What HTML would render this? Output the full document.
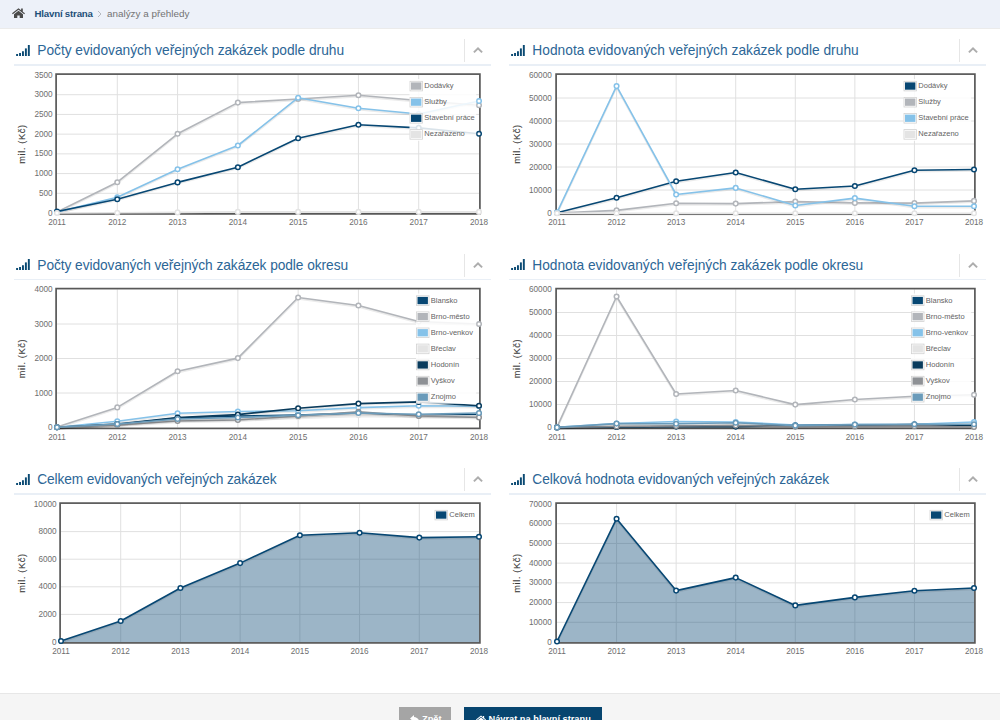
<!DOCTYPE html>
<html lang="cs"><head><meta charset="utf-8"><title>analýzy a přehledy</title>
<style>
html,body{margin:0;padding:0}
body{width:1000px;height:720px;overflow:hidden;position:relative;background:#fff;font-family:"Liberation Sans",sans-serif;color:#545454}
.bc{position:absolute;left:0;top:0;width:1000px;height:27.8px;background:#edf1f9;border-bottom:1px solid #ebebeb}
.bc .home{position:absolute;left:12px;top:7.7px}
.bc .a{position:absolute;left:34.5px;top:7.1px;font-size:9.7px;letter-spacing:-0.2px;line-height:13px;font-weight:bold;color:#1d4f78;white-space:nowrap}
.bc .sep{position:absolute;left:97px;top:9.5px}
.bc .b{position:absolute;left:107px;top:7px;font-size:9.9px;line-height:13px;color:#737373;white-space:nowrap}
.panel{position:absolute;width:477px;height:30px}
.panel .sig{position:absolute;left:2px;top:8.8px;fill:#0b4a73}
.panel .ttl{position:absolute;left:23.3px;top:6px;font-size:13.75px;line-height:18px;color:#2c6696;white-space:nowrap}
.panel .div{position:absolute;left:450px;top:3px;width:1px;height:23px;background:#e6e6e6}
.panel .chev{position:absolute;left:458px;top:10.3px}
.panel .ul{position:absolute;left:0;top:28.1px;width:477px;height:1.7px;background:#e9eff6}
svg.main{position:absolute;left:0;top:0}
.tk{font-size:8.2px;fill:#6e6e6e;font-family:"Liberation Sans",sans-serif}
.lg{font-size:7.5px;fill:#646464;font-family:"Liberation Sans",sans-serif}
.yl{font-size:9.2px;fill:#3c3c3c;stroke:#3c3c3c;stroke-width:0.14px;font-family:"Liberation Sans",sans-serif;letter-spacing:0.65px}
.foot{position:absolute;left:0;top:692.6px;width:1000px;height:28px;background:#f5f5f5;box-shadow:inset 0 1px 0 #e7e7e7}
.btn{position:absolute;top:14.9px;height:30px;color:#fff;font-weight:bold;font-size:9.25px;line-height:13px;white-space:nowrap}
.btn span{position:absolute;top:5.7px}
.b1{left:399.3px;width:51.5px;background:#a5a5a5}
.b2{left:463.5px;width:138px;background:#07456f}
</style></head><body>
<div class="bc">
<svg class="home" width="13" height="10.5" viewBox="0 0 13 11" preserveAspectRatio="none"><path d="M6.5 0.3 L0 5.6 L0.8 6.5 L6.5 1.9 L12.2 6.5 L13 5.6 L10.8 3.8 V0.4 H9.1 V2.4 Z" fill="#4a4a4a"/><path d="M6.5 2.9 L2 6.6 V10.8 H5.3 V7.8 H7.7 V10.8 H11 V6.6 Z" fill="#4a4a4a"/></svg>
<span class="a">Hlavní strana</span>
<svg class="sep" width="5" height="8" viewBox="0 0 5 8"><polyline points="1,1 4,4 1,7" fill="none" stroke="#b5b9c0" stroke-width="1"/></svg>
<span class="b">analýzy a přehledy</span>
</div>
<div class="panel" style="left:14px;top:36.0px">
<svg class="sig" width="14" height="11" viewBox="0 0 15 12"><rect x="0" y="9.8" width="2.1" height="2.2"/><rect x="3.2" y="8.7" width="2.1" height="3.3"/><rect x="6.4" y="6.8" width="2.1" height="5.2"/><rect x="9.6" y="3.7" width="2.1" height="8.3"/><rect x="12.8" y="0" width="2.1" height="12"/></svg>
<span class="ttl" style="letter-spacing:-0.028px">Počty evidovaných veřejných zakázek podle druhu</span>
<span class="div"></span>
<svg class="chev" width="12" height="8" viewBox="0 0 12 8"><polyline points="1.9,6.4 6,2.3 10.1,6.4" fill="none" stroke="#adadad" stroke-width="2"/></svg>
<span class="ul"></span>
</div>
<div class="panel" style="left:509px;top:36.0px">
<svg class="sig" width="14" height="11" viewBox="0 0 15 12"><rect x="0" y="9.8" width="2.1" height="2.2"/><rect x="3.2" y="8.7" width="2.1" height="3.3"/><rect x="6.4" y="6.8" width="2.1" height="5.2"/><rect x="9.6" y="3.7" width="2.1" height="8.3"/><rect x="12.8" y="0" width="2.1" height="12"/></svg>
<span class="ttl" style="letter-spacing:0.016px">Hodnota evidovaných veřejných zakázek podle druhu</span>
<span class="div"></span>
<svg class="chev" width="12" height="8" viewBox="0 0 12 8"><polyline points="1.9,6.4 6,2.3 10.1,6.4" fill="none" stroke="#adadad" stroke-width="2"/></svg>
<span class="ul"></span>
</div>
<div class="panel" style="left:14px;top:250.5px">
<svg class="sig" width="14" height="11" viewBox="0 0 15 12"><rect x="0" y="9.8" width="2.1" height="2.2"/><rect x="3.2" y="8.7" width="2.1" height="3.3"/><rect x="6.4" y="6.8" width="2.1" height="5.2"/><rect x="9.6" y="3.7" width="2.1" height="8.3"/><rect x="12.8" y="0" width="2.1" height="12"/></svg>
<span class="ttl" style="letter-spacing:-0.071px">Počty evidovaných veřejných zakázek podle okresu</span>
<span class="div"></span>
<svg class="chev" width="12" height="8" viewBox="0 0 12 8"><polyline points="1.9,6.4 6,2.3 10.1,6.4" fill="none" stroke="#adadad" stroke-width="2"/></svg>
<span class="ul"></span>
</div>
<div class="panel" style="left:509px;top:250.5px">
<svg class="sig" width="14" height="11" viewBox="0 0 15 12"><rect x="0" y="9.8" width="2.1" height="2.2"/><rect x="3.2" y="8.7" width="2.1" height="3.3"/><rect x="6.4" y="6.8" width="2.1" height="5.2"/><rect x="9.6" y="3.7" width="2.1" height="8.3"/><rect x="12.8" y="0" width="2.1" height="12"/></svg>
<span class="ttl" style="letter-spacing:-0.018px">Hodnota evidovaných veřejných zakázek podle okresu</span>
<span class="div"></span>
<svg class="chev" width="12" height="8" viewBox="0 0 12 8"><polyline points="1.9,6.4 6,2.3 10.1,6.4" fill="none" stroke="#adadad" stroke-width="2"/></svg>
<span class="ul"></span>
</div>
<div class="panel" style="left:14px;top:465.0px">
<svg class="sig" width="14" height="11" viewBox="0 0 15 12"><rect x="0" y="9.8" width="2.1" height="2.2"/><rect x="3.2" y="8.7" width="2.1" height="3.3"/><rect x="6.4" y="6.8" width="2.1" height="5.2"/><rect x="9.6" y="3.7" width="2.1" height="8.3"/><rect x="12.8" y="0" width="2.1" height="12"/></svg>
<span class="ttl" style="letter-spacing:-0.13px">Celkem evidovaných veřejných zakázek</span>
<span class="div"></span>
<svg class="chev" width="12" height="8" viewBox="0 0 12 8"><polyline points="1.9,6.4 6,2.3 10.1,6.4" fill="none" stroke="#adadad" stroke-width="2"/></svg>
<span class="ul"></span>
</div>
<div class="panel" style="left:509px;top:465.0px">
<svg class="sig" width="14" height="11" viewBox="0 0 15 12"><rect x="0" y="9.8" width="2.1" height="2.2"/><rect x="3.2" y="8.7" width="2.1" height="3.3"/><rect x="6.4" y="6.8" width="2.1" height="5.2"/><rect x="9.6" y="3.7" width="2.1" height="8.3"/><rect x="12.8" y="0" width="2.1" height="12"/></svg>
<span class="ttl" style="letter-spacing:-0.08px">Celková hodnota evidovaných veřejných zakázek</span>
<span class="div"></span>
<svg class="chev" width="12" height="8" viewBox="0 0 12 8"><polyline points="1.9,6.4 6,2.3 10.1,6.4" fill="none" stroke="#adadad" stroke-width="2"/></svg>
<span class="ul"></span>
</div>
<svg class="main" width="1000" height="720" viewBox="0 0 1000 720">
<g id="chart1">
<line x1="57" x2="479" y1="193.29" y2="193.29" stroke="#e0e0e0" stroke-width="1"/>
<line x1="57" x2="479" y1="173.57" y2="173.57" stroke="#e0e0e0" stroke-width="1"/>
<line x1="57" x2="479" y1="153.86" y2="153.86" stroke="#e0e0e0" stroke-width="1"/>
<line x1="57" x2="479" y1="134.14" y2="134.14" stroke="#e0e0e0" stroke-width="1"/>
<line x1="57" x2="479" y1="114.43" y2="114.43" stroke="#e0e0e0" stroke-width="1"/>
<line x1="57" x2="479" y1="94.71" y2="94.71" stroke="#e0e0e0" stroke-width="1"/>
<line x1="117.29" x2="117.29" y1="75" y2="213" stroke="#e0e0e0" stroke-width="1"/>
<line x1="177.57" x2="177.57" y1="75" y2="213" stroke="#e0e0e0" stroke-width="1"/>
<line x1="237.86" x2="237.86" y1="75" y2="213" stroke="#e0e0e0" stroke-width="1"/>
<line x1="298.14" x2="298.14" y1="75" y2="213" stroke="#e0e0e0" stroke-width="1"/>
<line x1="358.43" x2="358.43" y1="75" y2="213" stroke="#e0e0e0" stroke-width="1"/>
<line x1="418.71" x2="418.71" y1="75" y2="213" stroke="#e0e0e0" stroke-width="1"/>
<rect x="56.1" y="74.1" width="423.8" height="139.8" fill="none" stroke="#585858" stroke-width="1.7"/>
<text x="52.6" y="215.60" text-anchor="end" class="tk">0</text>
<text x="52.6" y="195.89" text-anchor="end" class="tk">500</text>
<text x="52.6" y="176.17" text-anchor="end" class="tk">1000</text>
<text x="52.6" y="156.46" text-anchor="end" class="tk">1500</text>
<text x="52.6" y="136.74" text-anchor="end" class="tk">2000</text>
<text x="52.6" y="117.03" text-anchor="end" class="tk">2500</text>
<text x="52.6" y="97.31" text-anchor="end" class="tk">3000</text>
<text x="52.6" y="77.60" text-anchor="end" class="tk">3500</text>
<text x="57.00" y="225.00" text-anchor="middle" class="tk">2011</text>
<text x="117.29" y="225.00" text-anchor="middle" class="tk">2012</text>
<text x="177.57" y="225.00" text-anchor="middle" class="tk">2013</text>
<text x="237.86" y="225.00" text-anchor="middle" class="tk">2014</text>
<text x="298.14" y="225.00" text-anchor="middle" class="tk">2015</text>
<text x="358.43" y="225.00" text-anchor="middle" class="tk">2016</text>
<text x="418.71" y="225.00" text-anchor="middle" class="tk">2017</text>
<text x="479.00" y="225.00" text-anchor="middle" class="tk">2018</text>
<text transform="translate(24.8,144.0) rotate(-90)" text-anchor="middle" class="yl">mil. (Kč)</text>
<polyline points="57.00,212.00 117.29,182.20 177.57,133.80 237.86,102.60 298.14,99.00 358.43,95.30 418.71,100.50 479.00,105.20" fill="none" stroke="#000" stroke-opacity="0.08" stroke-width="2" transform="translate(0,1.2)"/>
<polyline points="57.00,212.00 117.29,182.20 177.57,133.80 237.86,102.60 298.14,99.00 358.43,95.30 418.71,100.50 479.00,105.20" fill="none" stroke="#b2b5ba" stroke-width="1.6" stroke-linejoin="round"/>
<circle cx="57.00" cy="212.00" r="2.3" fill="#fff" stroke="#b2b5ba" stroke-width="1.5"/>
<circle cx="117.29" cy="182.20" r="2.3" fill="#fff" stroke="#b2b5ba" stroke-width="1.5"/>
<circle cx="177.57" cy="133.80" r="2.3" fill="#fff" stroke="#b2b5ba" stroke-width="1.5"/>
<circle cx="237.86" cy="102.60" r="2.3" fill="#fff" stroke="#b2b5ba" stroke-width="1.5"/>
<circle cx="298.14" cy="99.00" r="2.3" fill="#fff" stroke="#b2b5ba" stroke-width="1.5"/>
<circle cx="358.43" cy="95.30" r="2.3" fill="#fff" stroke="#b2b5ba" stroke-width="1.5"/>
<circle cx="418.71" cy="100.50" r="2.3" fill="#fff" stroke="#b2b5ba" stroke-width="1.5"/>
<circle cx="479.00" cy="105.20" r="2.3" fill="#fff" stroke="#b2b5ba" stroke-width="1.5"/>
<polyline points="57.00,212.00 117.29,197.20 177.57,169.20 237.86,145.50 298.14,97.70 358.43,108.30 418.71,114.00 479.00,101.00" fill="none" stroke="#000" stroke-opacity="0.08" stroke-width="2" transform="translate(0,1.2)"/>
<polyline points="57.00,212.00 117.29,197.20 177.57,169.20 237.86,145.50 298.14,97.70 358.43,108.30 418.71,114.00 479.00,101.00" fill="none" stroke="#85c2e9" stroke-width="1.6" stroke-linejoin="round"/>
<circle cx="57.00" cy="212.00" r="2.3" fill="#fff" stroke="#85c2e9" stroke-width="1.5"/>
<circle cx="117.29" cy="197.20" r="2.3" fill="#fff" stroke="#85c2e9" stroke-width="1.5"/>
<circle cx="177.57" cy="169.20" r="2.3" fill="#fff" stroke="#85c2e9" stroke-width="1.5"/>
<circle cx="237.86" cy="145.50" r="2.3" fill="#fff" stroke="#85c2e9" stroke-width="1.5"/>
<circle cx="298.14" cy="97.70" r="2.3" fill="#fff" stroke="#85c2e9" stroke-width="1.5"/>
<circle cx="358.43" cy="108.30" r="2.3" fill="#fff" stroke="#85c2e9" stroke-width="1.5"/>
<circle cx="418.71" cy="114.00" r="2.3" fill="#fff" stroke="#85c2e9" stroke-width="1.5"/>
<circle cx="479.00" cy="101.00" r="2.3" fill="#fff" stroke="#85c2e9" stroke-width="1.5"/>
<polyline points="57.00,211.50 117.29,199.20 177.57,182.40 237.86,167.20 298.14,138.20 358.43,124.80 418.71,127.90 479.00,133.80" fill="none" stroke="#000" stroke-opacity="0.08" stroke-width="2" transform="translate(0,1.2)"/>
<polyline points="57.00,211.50 117.29,199.20 177.57,182.40 237.86,167.20 298.14,138.20 358.43,124.80 418.71,127.90 479.00,133.80" fill="none" stroke="#074773" stroke-width="1.6" stroke-linejoin="round"/>
<circle cx="57.00" cy="211.50" r="2.3" fill="#fff" stroke="#074773" stroke-width="1.5"/>
<circle cx="117.29" cy="199.20" r="2.3" fill="#fff" stroke="#074773" stroke-width="1.5"/>
<circle cx="177.57" cy="182.40" r="2.3" fill="#fff" stroke="#074773" stroke-width="1.5"/>
<circle cx="237.86" cy="167.20" r="2.3" fill="#fff" stroke="#074773" stroke-width="1.5"/>
<circle cx="298.14" cy="138.20" r="2.3" fill="#fff" stroke="#074773" stroke-width="1.5"/>
<circle cx="358.43" cy="124.80" r="2.3" fill="#fff" stroke="#074773" stroke-width="1.5"/>
<circle cx="418.71" cy="127.90" r="2.3" fill="#fff" stroke="#074773" stroke-width="1.5"/>
<circle cx="479.00" cy="133.80" r="2.3" fill="#fff" stroke="#074773" stroke-width="1.5"/>
<polyline points="57.00,213.00 117.29,212.70 177.57,212.40 237.86,211.90 298.14,211.90 358.43,211.90 418.71,211.90 479.00,211.90" fill="none" stroke="#000" stroke-opacity="0.08" stroke-width="2" transform="translate(0,1.2)"/>
<polyline points="57.00,213.00 117.29,212.70 177.57,212.40 237.86,211.90 298.14,211.90 358.43,211.90 418.71,211.90 479.00,211.90" fill="none" stroke="#e4e4e4" stroke-width="1.6" stroke-linejoin="round"/>
<circle cx="57.00" cy="213.00" r="2.3" fill="#fff" stroke="#e4e4e4" stroke-width="1.5"/>
<circle cx="117.29" cy="212.70" r="2.3" fill="#fff" stroke="#e4e4e4" stroke-width="1.5"/>
<circle cx="177.57" cy="212.40" r="2.3" fill="#fff" stroke="#e4e4e4" stroke-width="1.5"/>
<circle cx="237.86" cy="211.90" r="2.3" fill="#fff" stroke="#e4e4e4" stroke-width="1.5"/>
<circle cx="298.14" cy="211.90" r="2.3" fill="#fff" stroke="#e4e4e4" stroke-width="1.5"/>
<circle cx="358.43" cy="211.90" r="2.3" fill="#fff" stroke="#e4e4e4" stroke-width="1.5"/>
<circle cx="418.71" cy="211.90" r="2.3" fill="#fff" stroke="#e4e4e4" stroke-width="1.5"/>
<circle cx="479.00" cy="211.90" r="2.3" fill="#fff" stroke="#e4e4e4" stroke-width="1.5"/>
<rect x="409.5" y="79" width="66.69999999999999" height="61.9" fill="#fff" fill-opacity="0.85"/>
<rect x="410.0" y="81.30" width="12.5" height="9.6" fill="#fff" stroke="#d2d2d2" stroke-width="0.8"/>
<rect x="411.0" y="82.40" width="10.4" height="7.3" fill="#b2b5ba"/>
<text x="424.3" y="88.00" class="lg">Dodávky</text>
<rect x="410.0" y="97.40" width="12.5" height="9.6" fill="#fff" stroke="#d2d2d2" stroke-width="0.8"/>
<rect x="411.0" y="98.50" width="10.4" height="7.3" fill="#85c2e9"/>
<text x="424.3" y="104.10" class="lg">Služby</text>
<rect x="410.0" y="113.50" width="12.5" height="9.6" fill="#fff" stroke="#d2d2d2" stroke-width="0.8"/>
<rect x="411.0" y="114.60" width="10.4" height="7.3" fill="#074773"/>
<text x="424.3" y="120.20" class="lg">Stavební práce</text>
<rect x="410.0" y="129.60" width="12.5" height="9.6" fill="#fff" stroke="#d2d2d2" stroke-width="0.8"/>
<rect x="411.0" y="130.70" width="10.4" height="7.3" fill="#e4e4e4"/>
<text x="424.3" y="136.30" class="lg">Nezařazeno</text>
</g>
<g id="chart2">
<line x1="557" x2="974" y1="190.00" y2="190.00" stroke="#e0e0e0" stroke-width="1"/>
<line x1="557" x2="974" y1="167.00" y2="167.00" stroke="#e0e0e0" stroke-width="1"/>
<line x1="557" x2="974" y1="144.00" y2="144.00" stroke="#e0e0e0" stroke-width="1"/>
<line x1="557" x2="974" y1="121.00" y2="121.00" stroke="#e0e0e0" stroke-width="1"/>
<line x1="557" x2="974" y1="98.00" y2="98.00" stroke="#e0e0e0" stroke-width="1"/>
<line x1="616.57" x2="616.57" y1="75" y2="213" stroke="#e0e0e0" stroke-width="1"/>
<line x1="676.14" x2="676.14" y1="75" y2="213" stroke="#e0e0e0" stroke-width="1"/>
<line x1="735.71" x2="735.71" y1="75" y2="213" stroke="#e0e0e0" stroke-width="1"/>
<line x1="795.29" x2="795.29" y1="75" y2="213" stroke="#e0e0e0" stroke-width="1"/>
<line x1="854.86" x2="854.86" y1="75" y2="213" stroke="#e0e0e0" stroke-width="1"/>
<line x1="914.43" x2="914.43" y1="75" y2="213" stroke="#e0e0e0" stroke-width="1"/>
<rect x="556.1" y="74.1" width="418.8" height="139.8" fill="none" stroke="#585858" stroke-width="1.7"/>
<text x="551.8" y="215.60" text-anchor="end" class="tk">0</text>
<text x="551.8" y="192.60" text-anchor="end" class="tk">10000</text>
<text x="551.8" y="169.60" text-anchor="end" class="tk">20000</text>
<text x="551.8" y="146.60" text-anchor="end" class="tk">30000</text>
<text x="551.8" y="123.60" text-anchor="end" class="tk">40000</text>
<text x="551.8" y="100.60" text-anchor="end" class="tk">50000</text>
<text x="551.8" y="77.60" text-anchor="end" class="tk">60000</text>
<text x="557.00" y="225.00" text-anchor="middle" class="tk">2011</text>
<text x="616.57" y="225.00" text-anchor="middle" class="tk">2012</text>
<text x="676.14" y="225.00" text-anchor="middle" class="tk">2013</text>
<text x="735.71" y="225.00" text-anchor="middle" class="tk">2014</text>
<text x="795.29" y="225.00" text-anchor="middle" class="tk">2015</text>
<text x="854.86" y="225.00" text-anchor="middle" class="tk">2016</text>
<text x="914.43" y="225.00" text-anchor="middle" class="tk">2017</text>
<text x="974.00" y="225.00" text-anchor="middle" class="tk">2018</text>
<text transform="translate(519.8,144.0) rotate(-90)" text-anchor="middle" class="yl">mil. (Kč)</text>
<polyline points="557.00,212.80 616.57,197.80 676.14,181.30 735.71,172.50 795.29,189.30 854.86,186.00 914.43,170.30 974.00,169.50" fill="none" stroke="#000" stroke-opacity="0.08" stroke-width="2" transform="translate(0,1.2)"/>
<polyline points="557.00,212.80 616.57,197.80 676.14,181.30 735.71,172.50 795.29,189.30 854.86,186.00 914.43,170.30 974.00,169.50" fill="none" stroke="#074773" stroke-width="1.6" stroke-linejoin="round"/>
<circle cx="557.00" cy="212.80" r="2.3" fill="#fff" stroke="#074773" stroke-width="1.5"/>
<circle cx="616.57" cy="197.80" r="2.3" fill="#fff" stroke="#074773" stroke-width="1.5"/>
<circle cx="676.14" cy="181.30" r="2.3" fill="#fff" stroke="#074773" stroke-width="1.5"/>
<circle cx="735.71" cy="172.50" r="2.3" fill="#fff" stroke="#074773" stroke-width="1.5"/>
<circle cx="795.29" cy="189.30" r="2.3" fill="#fff" stroke="#074773" stroke-width="1.5"/>
<circle cx="854.86" cy="186.00" r="2.3" fill="#fff" stroke="#074773" stroke-width="1.5"/>
<circle cx="914.43" cy="170.30" r="2.3" fill="#fff" stroke="#074773" stroke-width="1.5"/>
<circle cx="974.00" cy="169.50" r="2.3" fill="#fff" stroke="#074773" stroke-width="1.5"/>
<polyline points="557.00,213.00 616.57,210.40 676.14,203.30 735.71,203.60 795.29,201.60 854.86,202.90 914.43,203.10 974.00,200.90" fill="none" stroke="#000" stroke-opacity="0.08" stroke-width="2" transform="translate(0,1.2)"/>
<polyline points="557.00,213.00 616.57,210.40 676.14,203.30 735.71,203.60 795.29,201.60 854.86,202.90 914.43,203.10 974.00,200.90" fill="none" stroke="#b2b5ba" stroke-width="1.6" stroke-linejoin="round"/>
<circle cx="557.00" cy="213.00" r="2.3" fill="#fff" stroke="#b2b5ba" stroke-width="1.5"/>
<circle cx="616.57" cy="210.40" r="2.3" fill="#fff" stroke="#b2b5ba" stroke-width="1.5"/>
<circle cx="676.14" cy="203.30" r="2.3" fill="#fff" stroke="#b2b5ba" stroke-width="1.5"/>
<circle cx="735.71" cy="203.60" r="2.3" fill="#fff" stroke="#b2b5ba" stroke-width="1.5"/>
<circle cx="795.29" cy="201.60" r="2.3" fill="#fff" stroke="#b2b5ba" stroke-width="1.5"/>
<circle cx="854.86" cy="202.90" r="2.3" fill="#fff" stroke="#b2b5ba" stroke-width="1.5"/>
<circle cx="914.43" cy="203.10" r="2.3" fill="#fff" stroke="#b2b5ba" stroke-width="1.5"/>
<circle cx="974.00" cy="200.90" r="2.3" fill="#fff" stroke="#b2b5ba" stroke-width="1.5"/>
<polyline points="557.00,212.60 616.57,86.10 676.14,194.50 735.71,187.90 795.29,205.50 854.86,198.10 914.43,206.20 974.00,206.20" fill="none" stroke="#000" stroke-opacity="0.08" stroke-width="2" transform="translate(0,1.2)"/>
<polyline points="557.00,212.60 616.57,86.10 676.14,194.50 735.71,187.90 795.29,205.50 854.86,198.10 914.43,206.20 974.00,206.20" fill="none" stroke="#85c2e9" stroke-width="1.6" stroke-linejoin="round"/>
<circle cx="557.00" cy="212.60" r="2.3" fill="#fff" stroke="#85c2e9" stroke-width="1.5"/>
<circle cx="616.57" cy="86.10" r="2.3" fill="#fff" stroke="#85c2e9" stroke-width="1.5"/>
<circle cx="676.14" cy="194.50" r="2.3" fill="#fff" stroke="#85c2e9" stroke-width="1.5"/>
<circle cx="735.71" cy="187.90" r="2.3" fill="#fff" stroke="#85c2e9" stroke-width="1.5"/>
<circle cx="795.29" cy="205.50" r="2.3" fill="#fff" stroke="#85c2e9" stroke-width="1.5"/>
<circle cx="854.86" cy="198.10" r="2.3" fill="#fff" stroke="#85c2e9" stroke-width="1.5"/>
<circle cx="914.43" cy="206.20" r="2.3" fill="#fff" stroke="#85c2e9" stroke-width="1.5"/>
<circle cx="974.00" cy="206.20" r="2.3" fill="#fff" stroke="#85c2e9" stroke-width="1.5"/>
<polyline points="557.00,213.20 616.57,213.20 676.14,213.20 735.71,213.20 795.29,213.20 854.86,213.20 914.43,213.20 974.00,213.20" fill="none" stroke="#000" stroke-opacity="0.08" stroke-width="2" transform="translate(0,1.2)"/>
<polyline points="557.00,213.20 616.57,213.20 676.14,213.20 735.71,213.20 795.29,213.20 854.86,213.20 914.43,213.20 974.00,213.20" fill="none" stroke="#e4e4e4" stroke-width="1.6" stroke-linejoin="round"/>
<circle cx="557.00" cy="213.20" r="2.3" fill="#fff" stroke="#e4e4e4" stroke-width="1.5"/>
<circle cx="616.57" cy="213.20" r="2.3" fill="#fff" stroke="#e4e4e4" stroke-width="1.5"/>
<circle cx="676.14" cy="213.20" r="2.3" fill="#fff" stroke="#e4e4e4" stroke-width="1.5"/>
<circle cx="735.71" cy="213.20" r="2.3" fill="#fff" stroke="#e4e4e4" stroke-width="1.5"/>
<circle cx="795.29" cy="213.20" r="2.3" fill="#fff" stroke="#e4e4e4" stroke-width="1.5"/>
<circle cx="854.86" cy="213.20" r="2.3" fill="#fff" stroke="#e4e4e4" stroke-width="1.5"/>
<circle cx="914.43" cy="213.20" r="2.3" fill="#fff" stroke="#e4e4e4" stroke-width="1.5"/>
<circle cx="974.00" cy="213.20" r="2.3" fill="#fff" stroke="#e4e4e4" stroke-width="1.5"/>
<rect x="903.5" y="79" width="67.70000000000005" height="61.9" fill="#fff" fill-opacity="0.85"/>
<rect x="904.0" y="81.30" width="12.5" height="9.6" fill="#fff" stroke="#d2d2d2" stroke-width="0.8"/>
<rect x="905.0" y="82.40" width="10.4" height="7.3" fill="#074773"/>
<text x="918.3" y="88.00" class="lg">Dodávky</text>
<rect x="904.0" y="97.40" width="12.5" height="9.6" fill="#fff" stroke="#d2d2d2" stroke-width="0.8"/>
<rect x="905.0" y="98.50" width="10.4" height="7.3" fill="#b2b5ba"/>
<text x="918.3" y="104.10" class="lg">Služby</text>
<rect x="904.0" y="113.50" width="12.5" height="9.6" fill="#fff" stroke="#d2d2d2" stroke-width="0.8"/>
<rect x="905.0" y="114.60" width="10.4" height="7.3" fill="#85c2e9"/>
<text x="918.3" y="120.20" class="lg">Stavební práce</text>
<rect x="904.0" y="129.60" width="12.5" height="9.6" fill="#fff" stroke="#d2d2d2" stroke-width="0.8"/>
<rect x="905.0" y="130.70" width="10.4" height="7.3" fill="#e4e4e4"/>
<text x="918.3" y="136.30" class="lg">Nezařazeno</text>
</g>
<g id="chart3">
<line x1="57" x2="479" y1="393.00" y2="393.00" stroke="#e0e0e0" stroke-width="1"/>
<line x1="57" x2="479" y1="358.50" y2="358.50" stroke="#e0e0e0" stroke-width="1"/>
<line x1="57" x2="479" y1="324.00" y2="324.00" stroke="#e0e0e0" stroke-width="1"/>
<line x1="117.29" x2="117.29" y1="289.5" y2="427.5" stroke="#e0e0e0" stroke-width="1"/>
<line x1="177.57" x2="177.57" y1="289.5" y2="427.5" stroke="#e0e0e0" stroke-width="1"/>
<line x1="237.86" x2="237.86" y1="289.5" y2="427.5" stroke="#e0e0e0" stroke-width="1"/>
<line x1="298.14" x2="298.14" y1="289.5" y2="427.5" stroke="#e0e0e0" stroke-width="1"/>
<line x1="358.43" x2="358.43" y1="289.5" y2="427.5" stroke="#e0e0e0" stroke-width="1"/>
<line x1="418.71" x2="418.71" y1="289.5" y2="427.5" stroke="#e0e0e0" stroke-width="1"/>
<rect x="56.1" y="288.6" width="423.8" height="139.8" fill="none" stroke="#585858" stroke-width="1.7"/>
<text x="52.6" y="430.10" text-anchor="end" class="tk">0</text>
<text x="52.6" y="395.60" text-anchor="end" class="tk">1000</text>
<text x="52.6" y="361.10" text-anchor="end" class="tk">2000</text>
<text x="52.6" y="326.60" text-anchor="end" class="tk">3000</text>
<text x="52.6" y="292.10" text-anchor="end" class="tk">4000</text>
<text x="57.00" y="439.50" text-anchor="middle" class="tk">2011</text>
<text x="117.29" y="439.50" text-anchor="middle" class="tk">2012</text>
<text x="177.57" y="439.50" text-anchor="middle" class="tk">2013</text>
<text x="237.86" y="439.50" text-anchor="middle" class="tk">2014</text>
<text x="298.14" y="439.50" text-anchor="middle" class="tk">2015</text>
<text x="358.43" y="439.50" text-anchor="middle" class="tk">2016</text>
<text x="418.71" y="439.50" text-anchor="middle" class="tk">2017</text>
<text x="479.00" y="439.50" text-anchor="middle" class="tk">2018</text>
<text transform="translate(24.8,358.5) rotate(-90)" text-anchor="middle" class="yl">mil. (Kč)</text>
<polyline points="57.00,427.30 117.29,424.50 177.57,418.00 237.86,416.00 298.14,415.00 358.43,413.00 418.71,415.50 479.00,414.50" fill="none" stroke="#000" stroke-opacity="0.08" stroke-width="2" transform="translate(0,1.2)"/>
<polyline points="57.00,427.30 117.29,424.50 177.57,418.00 237.86,416.00 298.14,415.00 358.43,413.00 418.71,415.50 479.00,414.50" fill="none" stroke="#074773" stroke-width="1.6" stroke-linejoin="round"/>
<circle cx="57.00" cy="427.30" r="2.3" fill="#fff" stroke="#074773" stroke-width="1.5"/>
<circle cx="117.29" cy="424.50" r="2.3" fill="#fff" stroke="#074773" stroke-width="1.5"/>
<circle cx="177.57" cy="418.00" r="2.3" fill="#fff" stroke="#074773" stroke-width="1.5"/>
<circle cx="237.86" cy="416.00" r="2.3" fill="#fff" stroke="#074773" stroke-width="1.5"/>
<circle cx="298.14" cy="415.00" r="2.3" fill="#fff" stroke="#074773" stroke-width="1.5"/>
<circle cx="358.43" cy="413.00" r="2.3" fill="#fff" stroke="#074773" stroke-width="1.5"/>
<circle cx="418.71" cy="415.50" r="2.3" fill="#fff" stroke="#074773" stroke-width="1.5"/>
<circle cx="479.00" cy="414.50" r="2.3" fill="#fff" stroke="#074773" stroke-width="1.5"/>
<polyline points="57.00,427.00 117.29,407.40 177.57,371.30 237.86,358.10 298.14,297.50 358.43,305.50 418.71,321.50 479.00,324.00" fill="none" stroke="#000" stroke-opacity="0.08" stroke-width="2" transform="translate(0,1.2)"/>
<polyline points="57.00,427.00 117.29,407.40 177.57,371.30 237.86,358.10 298.14,297.50 358.43,305.50 418.71,321.50 479.00,324.00" fill="none" stroke="#b2b5ba" stroke-width="1.6" stroke-linejoin="round"/>
<circle cx="57.00" cy="427.00" r="2.3" fill="#fff" stroke="#b2b5ba" stroke-width="1.5"/>
<circle cx="117.29" cy="407.40" r="2.3" fill="#fff" stroke="#b2b5ba" stroke-width="1.5"/>
<circle cx="177.57" cy="371.30" r="2.3" fill="#fff" stroke="#b2b5ba" stroke-width="1.5"/>
<circle cx="237.86" cy="358.10" r="2.3" fill="#fff" stroke="#b2b5ba" stroke-width="1.5"/>
<circle cx="298.14" cy="297.50" r="2.3" fill="#fff" stroke="#b2b5ba" stroke-width="1.5"/>
<circle cx="358.43" cy="305.50" r="2.3" fill="#fff" stroke="#b2b5ba" stroke-width="1.5"/>
<circle cx="418.71" cy="321.50" r="2.3" fill="#fff" stroke="#b2b5ba" stroke-width="1.5"/>
<circle cx="479.00" cy="324.00" r="2.3" fill="#fff" stroke="#b2b5ba" stroke-width="1.5"/>
<polyline points="57.00,427.30 117.29,421.20 177.57,413.20 237.86,411.50 298.14,410.80 358.43,407.60 418.71,405.70 479.00,406.30" fill="none" stroke="#000" stroke-opacity="0.08" stroke-width="2" transform="translate(0,1.2)"/>
<polyline points="57.00,427.30 117.29,421.20 177.57,413.20 237.86,411.50 298.14,410.80 358.43,407.60 418.71,405.70 479.00,406.30" fill="none" stroke="#85c2e9" stroke-width="1.6" stroke-linejoin="round"/>
<circle cx="57.00" cy="427.30" r="2.3" fill="#fff" stroke="#85c2e9" stroke-width="1.5"/>
<circle cx="117.29" cy="421.20" r="2.3" fill="#fff" stroke="#85c2e9" stroke-width="1.5"/>
<circle cx="177.57" cy="413.20" r="2.3" fill="#fff" stroke="#85c2e9" stroke-width="1.5"/>
<circle cx="237.86" cy="411.50" r="2.3" fill="#fff" stroke="#85c2e9" stroke-width="1.5"/>
<circle cx="298.14" cy="410.80" r="2.3" fill="#fff" stroke="#85c2e9" stroke-width="1.5"/>
<circle cx="358.43" cy="407.60" r="2.3" fill="#fff" stroke="#85c2e9" stroke-width="1.5"/>
<circle cx="418.71" cy="405.70" r="2.3" fill="#fff" stroke="#85c2e9" stroke-width="1.5"/>
<circle cx="479.00" cy="406.30" r="2.3" fill="#fff" stroke="#85c2e9" stroke-width="1.5"/>
<polyline points="57.00,427.30 117.29,424.60 177.57,420.00 237.86,419.00 298.14,417.00 358.43,415.00 418.71,416.00 479.00,416.00" fill="none" stroke="#000" stroke-opacity="0.08" stroke-width="2" transform="translate(0,1.2)"/>
<polyline points="57.00,427.30 117.29,424.60 177.57,420.00 237.86,419.00 298.14,417.00 358.43,415.00 418.71,416.00 479.00,416.00" fill="none" stroke="#e4e4e4" stroke-width="1.6" stroke-linejoin="round"/>
<circle cx="57.00" cy="427.30" r="2.3" fill="#fff" stroke="#e4e4e4" stroke-width="1.5"/>
<circle cx="117.29" cy="424.60" r="2.3" fill="#fff" stroke="#e4e4e4" stroke-width="1.5"/>
<circle cx="177.57" cy="420.00" r="2.3" fill="#fff" stroke="#e4e4e4" stroke-width="1.5"/>
<circle cx="237.86" cy="419.00" r="2.3" fill="#fff" stroke="#e4e4e4" stroke-width="1.5"/>
<circle cx="298.14" cy="417.00" r="2.3" fill="#fff" stroke="#e4e4e4" stroke-width="1.5"/>
<circle cx="358.43" cy="415.00" r="2.3" fill="#fff" stroke="#e4e4e4" stroke-width="1.5"/>
<circle cx="418.71" cy="416.00" r="2.3" fill="#fff" stroke="#e4e4e4" stroke-width="1.5"/>
<circle cx="479.00" cy="416.00" r="2.3" fill="#fff" stroke="#e4e4e4" stroke-width="1.5"/>
<polyline points="57.00,427.30 117.29,424.00 177.57,417.50 237.86,414.60 298.14,408.20 358.43,403.60 418.71,401.90 479.00,405.70" fill="none" stroke="#000" stroke-opacity="0.08" stroke-width="2" transform="translate(0,1.2)"/>
<polyline points="57.00,427.30 117.29,424.00 177.57,417.50 237.86,414.60 298.14,408.20 358.43,403.60 418.71,401.90 479.00,405.70" fill="none" stroke="#093b5c" stroke-width="1.6" stroke-linejoin="round"/>
<circle cx="57.00" cy="427.30" r="2.3" fill="#fff" stroke="#093b5c" stroke-width="1.5"/>
<circle cx="117.29" cy="424.00" r="2.3" fill="#fff" stroke="#093b5c" stroke-width="1.5"/>
<circle cx="177.57" cy="417.50" r="2.3" fill="#fff" stroke="#093b5c" stroke-width="1.5"/>
<circle cx="237.86" cy="414.60" r="2.3" fill="#fff" stroke="#093b5c" stroke-width="1.5"/>
<circle cx="298.14" cy="408.20" r="2.3" fill="#fff" stroke="#093b5c" stroke-width="1.5"/>
<circle cx="358.43" cy="403.60" r="2.3" fill="#fff" stroke="#093b5c" stroke-width="1.5"/>
<circle cx="418.71" cy="401.90" r="2.3" fill="#fff" stroke="#093b5c" stroke-width="1.5"/>
<circle cx="479.00" cy="405.70" r="2.3" fill="#fff" stroke="#093b5c" stroke-width="1.5"/>
<polyline points="57.00,427.30 117.29,425.00 177.57,421.00 237.86,420.00 298.14,416.00 358.43,411.80 418.71,416.00 479.00,417.40" fill="none" stroke="#000" stroke-opacity="0.08" stroke-width="2" transform="translate(0,1.2)"/>
<polyline points="57.00,427.30 117.29,425.00 177.57,421.00 237.86,420.00 298.14,416.00 358.43,411.80 418.71,416.00 479.00,417.40" fill="none" stroke="#8e9195" stroke-width="1.6" stroke-linejoin="round"/>
<circle cx="57.00" cy="427.30" r="2.3" fill="#fff" stroke="#8e9195" stroke-width="1.5"/>
<circle cx="117.29" cy="425.00" r="2.3" fill="#fff" stroke="#8e9195" stroke-width="1.5"/>
<circle cx="177.57" cy="421.00" r="2.3" fill="#fff" stroke="#8e9195" stroke-width="1.5"/>
<circle cx="237.86" cy="420.00" r="2.3" fill="#fff" stroke="#8e9195" stroke-width="1.5"/>
<circle cx="298.14" cy="416.00" r="2.3" fill="#fff" stroke="#8e9195" stroke-width="1.5"/>
<circle cx="358.43" cy="411.80" r="2.3" fill="#fff" stroke="#8e9195" stroke-width="1.5"/>
<circle cx="418.71" cy="416.00" r="2.3" fill="#fff" stroke="#8e9195" stroke-width="1.5"/>
<circle cx="479.00" cy="417.40" r="2.3" fill="#fff" stroke="#8e9195" stroke-width="1.5"/>
<polyline points="57.00,427.30 117.29,424.00 177.57,419.00 237.86,417.50 298.14,415.30 358.43,413.00 418.71,414.30 479.00,413.00" fill="none" stroke="#000" stroke-opacity="0.08" stroke-width="2" transform="translate(0,1.2)"/>
<polyline points="57.00,427.30 117.29,424.00 177.57,419.00 237.86,417.50 298.14,415.30 358.43,413.00 418.71,414.30 479.00,413.00" fill="none" stroke="#6a9bba" stroke-width="1.6" stroke-linejoin="round"/>
<circle cx="57.00" cy="427.30" r="2.3" fill="#fff" stroke="#6a9bba" stroke-width="1.5"/>
<circle cx="117.29" cy="424.00" r="2.3" fill="#fff" stroke="#6a9bba" stroke-width="1.5"/>
<circle cx="177.57" cy="419.00" r="2.3" fill="#fff" stroke="#6a9bba" stroke-width="1.5"/>
<circle cx="237.86" cy="417.50" r="2.3" fill="#fff" stroke="#6a9bba" stroke-width="1.5"/>
<circle cx="298.14" cy="415.30" r="2.3" fill="#fff" stroke="#6a9bba" stroke-width="1.5"/>
<circle cx="358.43" cy="413.00" r="2.3" fill="#fff" stroke="#6a9bba" stroke-width="1.5"/>
<circle cx="418.71" cy="414.30" r="2.3" fill="#fff" stroke="#6a9bba" stroke-width="1.5"/>
<circle cx="479.00" cy="413.00" r="2.3" fill="#fff" stroke="#6a9bba" stroke-width="1.5"/>
<rect x="416" y="293.5" width="60.19999999999999" height="110.2" fill="#fff" fill-opacity="0.85"/>
<rect x="416.5" y="295.80" width="12.5" height="9.6" fill="#fff" stroke="#d2d2d2" stroke-width="0.8"/>
<rect x="417.5" y="296.90" width="10.4" height="7.3" fill="#074773"/>
<text x="430.8" y="302.50" class="lg">Blansko</text>
<rect x="416.5" y="311.90" width="12.5" height="9.6" fill="#fff" stroke="#d2d2d2" stroke-width="0.8"/>
<rect x="417.5" y="313.00" width="10.4" height="7.3" fill="#b2b5ba"/>
<text x="430.8" y="318.60" class="lg">Brno-město</text>
<rect x="416.5" y="328.00" width="12.5" height="9.6" fill="#fff" stroke="#d2d2d2" stroke-width="0.8"/>
<rect x="417.5" y="329.10" width="10.4" height="7.3" fill="#85c2e9"/>
<text x="430.8" y="334.70" class="lg">Brno-venkov</text>
<rect x="416.5" y="344.10" width="12.5" height="9.6" fill="#fff" stroke="#d2d2d2" stroke-width="0.8"/>
<rect x="417.5" y="345.20" width="10.4" height="7.3" fill="#e4e4e4"/>
<text x="430.8" y="350.80" class="lg">Břeclav</text>
<rect x="416.5" y="360.20" width="12.5" height="9.6" fill="#fff" stroke="#d2d2d2" stroke-width="0.8"/>
<rect x="417.5" y="361.30" width="10.4" height="7.3" fill="#093b5c"/>
<text x="430.8" y="366.90" class="lg">Hodonín</text>
<rect x="416.5" y="376.30" width="12.5" height="9.6" fill="#fff" stroke="#d2d2d2" stroke-width="0.8"/>
<rect x="417.5" y="377.40" width="10.4" height="7.3" fill="#8e9195"/>
<text x="430.8" y="383.00" class="lg">Vyškov</text>
<rect x="416.5" y="392.40" width="12.5" height="9.6" fill="#fff" stroke="#d2d2d2" stroke-width="0.8"/>
<rect x="417.5" y="393.50" width="10.4" height="7.3" fill="#6a9bba"/>
<text x="430.8" y="399.10" class="lg">Znojmo</text>
</g>
<g id="chart4">
<line x1="557" x2="974" y1="404.50" y2="404.50" stroke="#e0e0e0" stroke-width="1"/>
<line x1="557" x2="974" y1="381.50" y2="381.50" stroke="#e0e0e0" stroke-width="1"/>
<line x1="557" x2="974" y1="358.50" y2="358.50" stroke="#e0e0e0" stroke-width="1"/>
<line x1="557" x2="974" y1="335.50" y2="335.50" stroke="#e0e0e0" stroke-width="1"/>
<line x1="557" x2="974" y1="312.50" y2="312.50" stroke="#e0e0e0" stroke-width="1"/>
<line x1="616.57" x2="616.57" y1="289.5" y2="427.5" stroke="#e0e0e0" stroke-width="1"/>
<line x1="676.14" x2="676.14" y1="289.5" y2="427.5" stroke="#e0e0e0" stroke-width="1"/>
<line x1="735.71" x2="735.71" y1="289.5" y2="427.5" stroke="#e0e0e0" stroke-width="1"/>
<line x1="795.29" x2="795.29" y1="289.5" y2="427.5" stroke="#e0e0e0" stroke-width="1"/>
<line x1="854.86" x2="854.86" y1="289.5" y2="427.5" stroke="#e0e0e0" stroke-width="1"/>
<line x1="914.43" x2="914.43" y1="289.5" y2="427.5" stroke="#e0e0e0" stroke-width="1"/>
<rect x="556.1" y="288.6" width="418.8" height="139.8" fill="none" stroke="#585858" stroke-width="1.7"/>
<text x="551.8" y="430.10" text-anchor="end" class="tk">0</text>
<text x="551.8" y="407.10" text-anchor="end" class="tk">10000</text>
<text x="551.8" y="384.10" text-anchor="end" class="tk">20000</text>
<text x="551.8" y="361.10" text-anchor="end" class="tk">30000</text>
<text x="551.8" y="338.10" text-anchor="end" class="tk">40000</text>
<text x="551.8" y="315.10" text-anchor="end" class="tk">50000</text>
<text x="551.8" y="292.10" text-anchor="end" class="tk">60000</text>
<text x="557.00" y="439.50" text-anchor="middle" class="tk">2011</text>
<text x="616.57" y="439.50" text-anchor="middle" class="tk">2012</text>
<text x="676.14" y="439.50" text-anchor="middle" class="tk">2013</text>
<text x="735.71" y="439.50" text-anchor="middle" class="tk">2014</text>
<text x="795.29" y="439.50" text-anchor="middle" class="tk">2015</text>
<text x="854.86" y="439.50" text-anchor="middle" class="tk">2016</text>
<text x="914.43" y="439.50" text-anchor="middle" class="tk">2017</text>
<text x="974.00" y="439.50" text-anchor="middle" class="tk">2018</text>
<text transform="translate(519.8,358.5) rotate(-90)" text-anchor="middle" class="yl">mil. (Kč)</text>
<polyline points="557.00,427.40 616.57,426.80 676.14,426.00 735.71,426.30 795.29,426.30 854.86,426.00 914.43,425.80 974.00,425.50" fill="none" stroke="#000" stroke-opacity="0.08" stroke-width="2" transform="translate(0,1.2)"/>
<polyline points="557.00,427.40 616.57,426.80 676.14,426.00 735.71,426.30 795.29,426.30 854.86,426.00 914.43,425.80 974.00,425.50" fill="none" stroke="#074773" stroke-width="1.6" stroke-linejoin="round"/>
<circle cx="557.00" cy="427.40" r="2.3" fill="#fff" stroke="#074773" stroke-width="1.5"/>
<circle cx="616.57" cy="426.80" r="2.3" fill="#fff" stroke="#074773" stroke-width="1.5"/>
<circle cx="676.14" cy="426.00" r="2.3" fill="#fff" stroke="#074773" stroke-width="1.5"/>
<circle cx="735.71" cy="426.30" r="2.3" fill="#fff" stroke="#074773" stroke-width="1.5"/>
<circle cx="795.29" cy="426.30" r="2.3" fill="#fff" stroke="#074773" stroke-width="1.5"/>
<circle cx="854.86" cy="426.00" r="2.3" fill="#fff" stroke="#074773" stroke-width="1.5"/>
<circle cx="914.43" cy="425.80" r="2.3" fill="#fff" stroke="#074773" stroke-width="1.5"/>
<circle cx="974.00" cy="425.50" r="2.3" fill="#fff" stroke="#074773" stroke-width="1.5"/>
<polyline points="557.00,427.20 616.57,296.50 676.14,394.00 735.71,390.50 795.29,404.60 854.86,399.50 914.43,396.20 974.00,394.70" fill="none" stroke="#000" stroke-opacity="0.08" stroke-width="2" transform="translate(0,1.2)"/>
<polyline points="557.00,427.20 616.57,296.50 676.14,394.00 735.71,390.50 795.29,404.60 854.86,399.50 914.43,396.20 974.00,394.70" fill="none" stroke="#b2b5ba" stroke-width="1.6" stroke-linejoin="round"/>
<circle cx="557.00" cy="427.20" r="2.3" fill="#fff" stroke="#b2b5ba" stroke-width="1.5"/>
<circle cx="616.57" cy="296.50" r="2.3" fill="#fff" stroke="#b2b5ba" stroke-width="1.5"/>
<circle cx="676.14" cy="394.00" r="2.3" fill="#fff" stroke="#b2b5ba" stroke-width="1.5"/>
<circle cx="735.71" cy="390.50" r="2.3" fill="#fff" stroke="#b2b5ba" stroke-width="1.5"/>
<circle cx="795.29" cy="404.60" r="2.3" fill="#fff" stroke="#b2b5ba" stroke-width="1.5"/>
<circle cx="854.86" cy="399.50" r="2.3" fill="#fff" stroke="#b2b5ba" stroke-width="1.5"/>
<circle cx="914.43" cy="396.20" r="2.3" fill="#fff" stroke="#b2b5ba" stroke-width="1.5"/>
<circle cx="974.00" cy="394.70" r="2.3" fill="#fff" stroke="#b2b5ba" stroke-width="1.5"/>
<polyline points="557.00,427.40 616.57,423.50 676.14,421.50 735.71,422.00 795.29,425.00 854.86,424.60 914.43,424.20 974.00,422.00" fill="none" stroke="#000" stroke-opacity="0.08" stroke-width="2" transform="translate(0,1.2)"/>
<polyline points="557.00,427.40 616.57,423.50 676.14,421.50 735.71,422.00 795.29,425.00 854.86,424.60 914.43,424.20 974.00,422.00" fill="none" stroke="#85c2e9" stroke-width="1.6" stroke-linejoin="round"/>
<circle cx="557.00" cy="427.40" r="2.3" fill="#fff" stroke="#85c2e9" stroke-width="1.5"/>
<circle cx="616.57" cy="423.50" r="2.3" fill="#fff" stroke="#85c2e9" stroke-width="1.5"/>
<circle cx="676.14" cy="421.50" r="2.3" fill="#fff" stroke="#85c2e9" stroke-width="1.5"/>
<circle cx="735.71" cy="422.00" r="2.3" fill="#fff" stroke="#85c2e9" stroke-width="1.5"/>
<circle cx="795.29" cy="425.00" r="2.3" fill="#fff" stroke="#85c2e9" stroke-width="1.5"/>
<circle cx="854.86" cy="424.60" r="2.3" fill="#fff" stroke="#85c2e9" stroke-width="1.5"/>
<circle cx="914.43" cy="424.20" r="2.3" fill="#fff" stroke="#85c2e9" stroke-width="1.5"/>
<circle cx="974.00" cy="422.00" r="2.3" fill="#fff" stroke="#85c2e9" stroke-width="1.5"/>
<polyline points="557.00,427.40 616.57,426.00 676.14,425.50 735.71,425.00 795.29,426.00 854.86,425.80 914.43,425.60 974.00,426.00" fill="none" stroke="#000" stroke-opacity="0.08" stroke-width="2" transform="translate(0,1.2)"/>
<polyline points="557.00,427.40 616.57,426.00 676.14,425.50 735.71,425.00 795.29,426.00 854.86,425.80 914.43,425.60 974.00,426.00" fill="none" stroke="#e4e4e4" stroke-width="1.6" stroke-linejoin="round"/>
<circle cx="557.00" cy="427.40" r="2.3" fill="#fff" stroke="#e4e4e4" stroke-width="1.5"/>
<circle cx="616.57" cy="426.00" r="2.3" fill="#fff" stroke="#e4e4e4" stroke-width="1.5"/>
<circle cx="676.14" cy="425.50" r="2.3" fill="#fff" stroke="#e4e4e4" stroke-width="1.5"/>
<circle cx="735.71" cy="425.00" r="2.3" fill="#fff" stroke="#e4e4e4" stroke-width="1.5"/>
<circle cx="795.29" cy="426.00" r="2.3" fill="#fff" stroke="#e4e4e4" stroke-width="1.5"/>
<circle cx="854.86" cy="425.80" r="2.3" fill="#fff" stroke="#e4e4e4" stroke-width="1.5"/>
<circle cx="914.43" cy="425.60" r="2.3" fill="#fff" stroke="#e4e4e4" stroke-width="1.5"/>
<circle cx="974.00" cy="426.00" r="2.3" fill="#fff" stroke="#e4e4e4" stroke-width="1.5"/>
<polyline points="557.00,427.40 616.57,427.00 676.14,426.60 735.71,426.60 795.29,425.50 854.86,425.20 914.43,424.50 974.00,425.50" fill="none" stroke="#000" stroke-opacity="0.08" stroke-width="2" transform="translate(0,1.2)"/>
<polyline points="557.00,427.40 616.57,427.00 676.14,426.60 735.71,426.60 795.29,425.50 854.86,425.20 914.43,424.50 974.00,425.50" fill="none" stroke="#093b5c" stroke-width="1.6" stroke-linejoin="round"/>
<circle cx="557.00" cy="427.40" r="2.3" fill="#fff" stroke="#093b5c" stroke-width="1.5"/>
<circle cx="616.57" cy="427.00" r="2.3" fill="#fff" stroke="#093b5c" stroke-width="1.5"/>
<circle cx="676.14" cy="426.60" r="2.3" fill="#fff" stroke="#093b5c" stroke-width="1.5"/>
<circle cx="735.71" cy="426.60" r="2.3" fill="#fff" stroke="#093b5c" stroke-width="1.5"/>
<circle cx="795.29" cy="425.50" r="2.3" fill="#fff" stroke="#093b5c" stroke-width="1.5"/>
<circle cx="854.86" cy="425.20" r="2.3" fill="#fff" stroke="#093b5c" stroke-width="1.5"/>
<circle cx="914.43" cy="424.50" r="2.3" fill="#fff" stroke="#093b5c" stroke-width="1.5"/>
<circle cx="974.00" cy="425.50" r="2.3" fill="#fff" stroke="#093b5c" stroke-width="1.5"/>
<polyline points="557.00,427.40 616.57,426.50 676.14,426.00 735.71,425.50 795.29,426.60 854.86,426.40 914.43,426.20 974.00,427.00" fill="none" stroke="#000" stroke-opacity="0.08" stroke-width="2" transform="translate(0,1.2)"/>
<polyline points="557.00,427.40 616.57,426.50 676.14,426.00 735.71,425.50 795.29,426.60 854.86,426.40 914.43,426.20 974.00,427.00" fill="none" stroke="#8e9195" stroke-width="1.6" stroke-linejoin="round"/>
<circle cx="557.00" cy="427.40" r="2.3" fill="#fff" stroke="#8e9195" stroke-width="1.5"/>
<circle cx="616.57" cy="426.50" r="2.3" fill="#fff" stroke="#8e9195" stroke-width="1.5"/>
<circle cx="676.14" cy="426.00" r="2.3" fill="#fff" stroke="#8e9195" stroke-width="1.5"/>
<circle cx="735.71" cy="425.50" r="2.3" fill="#fff" stroke="#8e9195" stroke-width="1.5"/>
<circle cx="795.29" cy="426.60" r="2.3" fill="#fff" stroke="#8e9195" stroke-width="1.5"/>
<circle cx="854.86" cy="426.40" r="2.3" fill="#fff" stroke="#8e9195" stroke-width="1.5"/>
<circle cx="914.43" cy="426.20" r="2.3" fill="#fff" stroke="#8e9195" stroke-width="1.5"/>
<circle cx="974.00" cy="427.00" r="2.3" fill="#fff" stroke="#8e9195" stroke-width="1.5"/>
<polyline points="557.00,427.40 616.57,423.60 676.14,423.80 735.71,422.80 795.29,425.60 854.86,424.60 914.43,424.20 974.00,424.20" fill="none" stroke="#000" stroke-opacity="0.08" stroke-width="2" transform="translate(0,1.2)"/>
<polyline points="557.00,427.40 616.57,423.60 676.14,423.80 735.71,422.80 795.29,425.60 854.86,424.60 914.43,424.20 974.00,424.20" fill="none" stroke="#6a9bba" stroke-width="1.6" stroke-linejoin="round"/>
<circle cx="557.00" cy="427.40" r="2.3" fill="#fff" stroke="#6a9bba" stroke-width="1.5"/>
<circle cx="616.57" cy="423.60" r="2.3" fill="#fff" stroke="#6a9bba" stroke-width="1.5"/>
<circle cx="676.14" cy="423.80" r="2.3" fill="#fff" stroke="#6a9bba" stroke-width="1.5"/>
<circle cx="735.71" cy="422.80" r="2.3" fill="#fff" stroke="#6a9bba" stroke-width="1.5"/>
<circle cx="795.29" cy="425.60" r="2.3" fill="#fff" stroke="#6a9bba" stroke-width="1.5"/>
<circle cx="854.86" cy="424.60" r="2.3" fill="#fff" stroke="#6a9bba" stroke-width="1.5"/>
<circle cx="914.43" cy="424.20" r="2.3" fill="#fff" stroke="#6a9bba" stroke-width="1.5"/>
<circle cx="974.00" cy="424.20" r="2.3" fill="#fff" stroke="#6a9bba" stroke-width="1.5"/>
<rect x="911" y="293.5" width="60.200000000000045" height="110.2" fill="#fff" fill-opacity="0.85"/>
<rect x="911.5" y="295.80" width="12.5" height="9.6" fill="#fff" stroke="#d2d2d2" stroke-width="0.8"/>
<rect x="912.5" y="296.90" width="10.4" height="7.3" fill="#074773"/>
<text x="925.8" y="302.50" class="lg">Blansko</text>
<rect x="911.5" y="311.90" width="12.5" height="9.6" fill="#fff" stroke="#d2d2d2" stroke-width="0.8"/>
<rect x="912.5" y="313.00" width="10.4" height="7.3" fill="#b2b5ba"/>
<text x="925.8" y="318.60" class="lg">Brno-město</text>
<rect x="911.5" y="328.00" width="12.5" height="9.6" fill="#fff" stroke="#d2d2d2" stroke-width="0.8"/>
<rect x="912.5" y="329.10" width="10.4" height="7.3" fill="#85c2e9"/>
<text x="925.8" y="334.70" class="lg">Brno-venkov</text>
<rect x="911.5" y="344.10" width="12.5" height="9.6" fill="#fff" stroke="#d2d2d2" stroke-width="0.8"/>
<rect x="912.5" y="345.20" width="10.4" height="7.3" fill="#e4e4e4"/>
<text x="925.8" y="350.80" class="lg">Břeclav</text>
<rect x="911.5" y="360.20" width="12.5" height="9.6" fill="#fff" stroke="#d2d2d2" stroke-width="0.8"/>
<rect x="912.5" y="361.30" width="10.4" height="7.3" fill="#093b5c"/>
<text x="925.8" y="366.90" class="lg">Hodonín</text>
<rect x="911.5" y="376.30" width="12.5" height="9.6" fill="#fff" stroke="#d2d2d2" stroke-width="0.8"/>
<rect x="912.5" y="377.40" width="10.4" height="7.3" fill="#8e9195"/>
<text x="925.8" y="383.00" class="lg">Vyškov</text>
<rect x="911.5" y="392.40" width="12.5" height="9.6" fill="#fff" stroke="#d2d2d2" stroke-width="0.8"/>
<rect x="912.5" y="393.50" width="10.4" height="7.3" fill="#6a9bba"/>
<text x="925.8" y="399.10" class="lg">Znojmo</text>
</g>
<g id="chart5">
<line x1="61" x2="479" y1="614.40" y2="614.40" stroke="#e0e0e0" stroke-width="1"/>
<line x1="61" x2="479" y1="586.80" y2="586.80" stroke="#e0e0e0" stroke-width="1"/>
<line x1="61" x2="479" y1="559.20" y2="559.20" stroke="#e0e0e0" stroke-width="1"/>
<line x1="61" x2="479" y1="531.60" y2="531.60" stroke="#e0e0e0" stroke-width="1"/>
<line x1="120.71" x2="120.71" y1="504" y2="642" stroke="#e0e0e0" stroke-width="1"/>
<line x1="180.43" x2="180.43" y1="504" y2="642" stroke="#e0e0e0" stroke-width="1"/>
<line x1="240.14" x2="240.14" y1="504" y2="642" stroke="#e0e0e0" stroke-width="1"/>
<line x1="299.86" x2="299.86" y1="504" y2="642" stroke="#e0e0e0" stroke-width="1"/>
<line x1="359.57" x2="359.57" y1="504" y2="642" stroke="#e0e0e0" stroke-width="1"/>
<line x1="419.29" x2="419.29" y1="504" y2="642" stroke="#e0e0e0" stroke-width="1"/>
<rect x="60.1" y="503.1" width="419.8" height="139.8" fill="none" stroke="#585858" stroke-width="1.7"/>
<text x="56.6" y="644.60" text-anchor="end" class="tk">0</text>
<text x="56.6" y="617.00" text-anchor="end" class="tk">2000</text>
<text x="56.6" y="589.40" text-anchor="end" class="tk">4000</text>
<text x="56.6" y="561.80" text-anchor="end" class="tk">6000</text>
<text x="56.6" y="534.20" text-anchor="end" class="tk">8000</text>
<text x="56.6" y="506.60" text-anchor="end" class="tk">10000</text>
<text x="61.00" y="654.00" text-anchor="middle" class="tk">2011</text>
<text x="120.71" y="654.00" text-anchor="middle" class="tk">2012</text>
<text x="180.43" y="654.00" text-anchor="middle" class="tk">2013</text>
<text x="240.14" y="654.00" text-anchor="middle" class="tk">2014</text>
<text x="299.86" y="654.00" text-anchor="middle" class="tk">2015</text>
<text x="359.57" y="654.00" text-anchor="middle" class="tk">2016</text>
<text x="419.29" y="654.00" text-anchor="middle" class="tk">2017</text>
<text x="479.00" y="654.00" text-anchor="middle" class="tk">2018</text>
<text transform="translate(24.8,573.0) rotate(-90)" text-anchor="middle" class="yl">mil. (Kč)</text>
<polygon points="61,642 61.00,641.00 120.71,621.00 180.43,588.00 240.14,563.10 299.86,535.20 359.57,532.80 419.29,537.60 479.00,536.70 479,642" fill="#074773" fill-opacity="0.4"/>
<polyline points="61.00,641.00 120.71,621.00 180.43,588.00 240.14,563.10 299.86,535.20 359.57,532.80 419.29,537.60 479.00,536.70" fill="none" stroke="#000" stroke-opacity="0.08" stroke-width="2" transform="translate(0,1.2)"/>
<polyline points="61.00,641.00 120.71,621.00 180.43,588.00 240.14,563.10 299.86,535.20 359.57,532.80 419.29,537.60 479.00,536.70" fill="none" stroke="#074773" stroke-width="1.6" stroke-linejoin="round"/>
<circle cx="61.00" cy="641.00" r="2.3" fill="#fff" stroke="#074773" stroke-width="1.5"/>
<circle cx="120.71" cy="621.00" r="2.3" fill="#fff" stroke="#074773" stroke-width="1.5"/>
<circle cx="180.43" cy="588.00" r="2.3" fill="#fff" stroke="#074773" stroke-width="1.5"/>
<circle cx="240.14" cy="563.10" r="2.3" fill="#fff" stroke="#074773" stroke-width="1.5"/>
<circle cx="299.86" cy="535.20" r="2.3" fill="#fff" stroke="#074773" stroke-width="1.5"/>
<circle cx="359.57" cy="532.80" r="2.3" fill="#fff" stroke="#074773" stroke-width="1.5"/>
<circle cx="419.29" cy="537.60" r="2.3" fill="#fff" stroke="#074773" stroke-width="1.5"/>
<circle cx="479.00" cy="536.70" r="2.3" fill="#fff" stroke="#074773" stroke-width="1.5"/>
<rect x="434.5" y="508" width="41.69999999999999" height="13.6" fill="#fff" fill-opacity="0.85"/>
<rect x="435.0" y="510.30" width="12.5" height="9.6" fill="#fff" stroke="#d2d2d2" stroke-width="0.8"/>
<rect x="436.0" y="511.40" width="10.4" height="7.3" fill="#074773"/>
<text x="449.3" y="517.00" class="lg">Celkem</text>
</g>
<g id="chart6">
<line x1="557" x2="974" y1="622.29" y2="622.29" stroke="#e0e0e0" stroke-width="1"/>
<line x1="557" x2="974" y1="602.57" y2="602.57" stroke="#e0e0e0" stroke-width="1"/>
<line x1="557" x2="974" y1="582.86" y2="582.86" stroke="#e0e0e0" stroke-width="1"/>
<line x1="557" x2="974" y1="563.14" y2="563.14" stroke="#e0e0e0" stroke-width="1"/>
<line x1="557" x2="974" y1="543.43" y2="543.43" stroke="#e0e0e0" stroke-width="1"/>
<line x1="557" x2="974" y1="523.71" y2="523.71" stroke="#e0e0e0" stroke-width="1"/>
<line x1="616.57" x2="616.57" y1="504" y2="642" stroke="#e0e0e0" stroke-width="1"/>
<line x1="676.14" x2="676.14" y1="504" y2="642" stroke="#e0e0e0" stroke-width="1"/>
<line x1="735.71" x2="735.71" y1="504" y2="642" stroke="#e0e0e0" stroke-width="1"/>
<line x1="795.29" x2="795.29" y1="504" y2="642" stroke="#e0e0e0" stroke-width="1"/>
<line x1="854.86" x2="854.86" y1="504" y2="642" stroke="#e0e0e0" stroke-width="1"/>
<line x1="914.43" x2="914.43" y1="504" y2="642" stroke="#e0e0e0" stroke-width="1"/>
<rect x="556.1" y="503.1" width="418.8" height="139.8" fill="none" stroke="#585858" stroke-width="1.7"/>
<text x="551.8" y="644.60" text-anchor="end" class="tk">0</text>
<text x="551.8" y="624.89" text-anchor="end" class="tk">10000</text>
<text x="551.8" y="605.17" text-anchor="end" class="tk">20000</text>
<text x="551.8" y="585.46" text-anchor="end" class="tk">30000</text>
<text x="551.8" y="565.74" text-anchor="end" class="tk">40000</text>
<text x="551.8" y="546.03" text-anchor="end" class="tk">50000</text>
<text x="551.8" y="526.31" text-anchor="end" class="tk">60000</text>
<text x="551.8" y="506.60" text-anchor="end" class="tk">70000</text>
<text x="557.00" y="654.00" text-anchor="middle" class="tk">2011</text>
<text x="616.57" y="654.00" text-anchor="middle" class="tk">2012</text>
<text x="676.14" y="654.00" text-anchor="middle" class="tk">2013</text>
<text x="735.71" y="654.00" text-anchor="middle" class="tk">2014</text>
<text x="795.29" y="654.00" text-anchor="middle" class="tk">2015</text>
<text x="854.86" y="654.00" text-anchor="middle" class="tk">2016</text>
<text x="914.43" y="654.00" text-anchor="middle" class="tk">2017</text>
<text x="974.00" y="654.00" text-anchor="middle" class="tk">2018</text>
<text transform="translate(519.8,573.0) rotate(-90)" text-anchor="middle" class="yl">mil. (Kč)</text>
<polygon points="557,642 557.00,641.50 616.57,518.70 676.14,590.60 735.71,577.60 795.29,605.40 854.86,597.40 914.43,590.80 974.00,588.00 974,642" fill="#074773" fill-opacity="0.4"/>
<polyline points="557.00,641.50 616.57,518.70 676.14,590.60 735.71,577.60 795.29,605.40 854.86,597.40 914.43,590.80 974.00,588.00" fill="none" stroke="#000" stroke-opacity="0.08" stroke-width="2" transform="translate(0,1.2)"/>
<polyline points="557.00,641.50 616.57,518.70 676.14,590.60 735.71,577.60 795.29,605.40 854.86,597.40 914.43,590.80 974.00,588.00" fill="none" stroke="#074773" stroke-width="1.6" stroke-linejoin="round"/>
<circle cx="557.00" cy="641.50" r="2.3" fill="#fff" stroke="#074773" stroke-width="1.5"/>
<circle cx="616.57" cy="518.70" r="2.3" fill="#fff" stroke="#074773" stroke-width="1.5"/>
<circle cx="676.14" cy="590.60" r="2.3" fill="#fff" stroke="#074773" stroke-width="1.5"/>
<circle cx="735.71" cy="577.60" r="2.3" fill="#fff" stroke="#074773" stroke-width="1.5"/>
<circle cx="795.29" cy="605.40" r="2.3" fill="#fff" stroke="#074773" stroke-width="1.5"/>
<circle cx="854.86" cy="597.40" r="2.3" fill="#fff" stroke="#074773" stroke-width="1.5"/>
<circle cx="914.43" cy="590.80" r="2.3" fill="#fff" stroke="#074773" stroke-width="1.5"/>
<circle cx="974.00" cy="588.00" r="2.3" fill="#fff" stroke="#074773" stroke-width="1.5"/>
<rect x="929.5" y="508" width="41.700000000000045" height="13.6" fill="#fff" fill-opacity="0.85"/>
<rect x="930.0" y="510.30" width="12.5" height="9.6" fill="#fff" stroke="#d2d2d2" stroke-width="0.8"/>
<rect x="931.0" y="511.40" width="10.4" height="7.3" fill="#074773"/>
<text x="944.3" y="517.00" class="lg">Celkem</text>
</g>
</svg>
<div class="foot">
<div class="btn b1"><svg style="position:absolute;left:10.7px;top:7.5px" width="10" height="9" viewBox="0 0 10 9"><path d="M4 0 L0 3.5 L4 7 V5 C6.5 5 8.3 5.8 9.6 8.6 C9.6 4.6 7.4 2.3 4 2 Z" fill="#fff"/></svg><span style="left:22.7px">Zpět</span></div>
<div class="btn b2"><svg style="position:absolute;left:12.5px;top:7.3px" width="10" height="9" viewBox="0 0 13 11"><path d="M6.5 0.3 L0 5.6 L0.8 6.5 L6.5 1.9 L12.2 6.5 L13 5.6 L10.6 3.6 V0.9 H9.1 V2.4 Z" fill="#fff"/><path d="M6.5 2.9 L2 6.6 V10.8 H5.3 V7.8 H7.7 V10.8 H11 V6.6 Z" fill="#fff"/></svg><span style="left:25px">Návrat na hlavní stranu</span></div>
</div>
</body></html>
